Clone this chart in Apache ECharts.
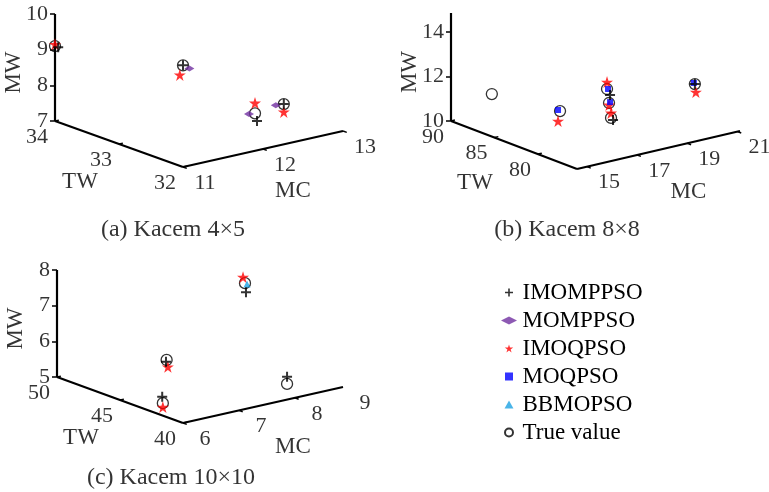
<!DOCTYPE html>
<html>
<head>
<meta charset="utf-8">
<script src="https://cdn.jsdelivr.net/npm/echarts@6/dist/echarts.min.js"></script>
<style>
  html, body { margin: 0; padding: 0; background: #ffffff; }
  #chart { width: 769px; height: 492px; }
</style>
</head>
<body>
<div id="chart"></div>
<script>
// every point is [TW, MC, MW]

// (a) Kacem 4x5
const imomppsoA = [[34, 11.04, 9.05], [32, 11, 9.85], [32, 11.925, 7.82], [33, 13.06, 7.08]];
const momppsoA = [[32, 11.08, 9.72], [32, 11.825, 8.07], [33, 12.96, 7.1]];
const imoqpsoA = [[34, 11, 9.15], [32.05, 11, 9.55], [32, 11.9, 8.34], [32.8, 12.9, 7.07]];
const trueA = [[34, 11, 9.1], [32, 11, 9.85], [32, 11.9, 8.05], [33, 13.06, 7.08]];

// (b) Kacem 8x8
const imomppsoB = [[79, 17.13, 12.14], [79, 17.25, 10.98], [77, 19.82, 12.22]];
const imoqpsoB = [[78, 14.71, 11.75], [79, 17.01, 12.75], [79, 17.09, 11.7], [79, 17.17, 11.32], [77, 19.86, 11.85]];
const moqpsoB = [[78, 14.71, 12.25], [79, 17.05, 12.43], [79, 17.13, 11.82], [77, 19.78, 12.28]];
const trueB = [[85.3, 14.6, 11.91], [78, 14.79, 12.18], [79, 17.01, 12.44], [79, 17.09, 11.79], [79, 17.17, 11.1], [77, 19.82, 12.22]];

// (c) Kacem 10x10
const imomppsoC = [[40, 7.126, 8.27], [41.35, 6, 6.54], [41.65, 6, 5.52], [40, 7.86, 5.64]];
const imoqpsoC = [[40, 7.073, 8.71], [41.2, 6, 6.42], [41.6, 6, 5.24]];
const bbmopsoC = [[40, 7.144, 8.49]];
const trueC = [[40, 7.108, 8.53], [41.3, 6, 6.6], [41.6, 6, 5.35], [40, 7.86, 5.44]];

// axis ranges and ticks
const twRangeA = [32, 34], mcRangeA = [11, 13], mwRangeA = [7, 10];
const twTicksA = [32, 33, 34], mcTicksA = [11, 12, 13], mwTicksA = [7, 8, 9, 10];
const twRangeB = [75.5, 90], mcRangeB = [14.6, 21.1], mwRangeB = [10, 14.85];
const twTicksB = [80, 85, 90], mcTicksB = [15, 17, 19, 21], mwTicksB = [10, 12, 14];
const twRangeC = [40, 50], mcRangeC = [6, 8.86], mwRangeC = [5, 8];
const twTicksC = [40, 45, 50], mcTicksC = [6, 7, 8, 9], mwTicksC = [5, 6, 7, 8];

const panelTitles = ['(a) Kacem 4\u00d75', '(b) Kacem 8\u00d78', '(c) Kacem 10\u00d710'];

// screen layout of each 3d box (pixels)
const panels = [
  { tw: twRangeA, mc: mcRangeA, mw: mwRangeA, twTicks: twTicksA, mcTicks: mcTicksA, mwTicks: mwTicksA,
    origin: [55, 121], twVec: [128, 46], mcVec: [160, -36], mwLen: 107, titlePos: [173, 230] },
  { tw: twRangeB, mc: mcRangeB, mw: mwRangeB, twTicks: twTicksB, mcTicks: mcTicksB, mwTicks: mwTicksB,
    origin: [451, 121], twVec: [126, 48], mcVec: [163, -38], mwLen: 108, titlePos: [567, 230] },
  { tw: twRangeC, mc: mcRangeC, mw: mwRangeC, twTicks: twTicksC, mcTicks: mcTicksC, mwTicks: mwTicksC,
    origin: [57, 377], twVec: [126, 46], mcVec: [160, -36], mwLen: 107, titlePos: [171, 478] }
];

function proj(p, pt) {
  const f = (p.tw[1] - pt[0]) / (p.tw[1] - p.tw[0]);
  const g = (pt[1] - p.mc[0]) / (p.mc[1] - p.mc[0]);
  const h = (pt[2] - p.mw[0]) / (p.mw[1] - p.mw[0]);
  return [
    p.origin[0] + f * p.twVec[0] + g * p.mcVec[0],
    p.origin[1] + f * p.twVec[1] + g * p.mcVec[1] - h * p.mwLen
  ];
}
function unit(v, len) {
  const n = Math.sqrt(v[0] * v[0] + v[1] * v[1]);
  return [v[0] / n * len, v[1] / n * len];
}

const axisSegs = [];
const tickSegs = [];
const textItems = [];
panels.forEach(function (p, i) {
  const top = proj(p, [p.tw[1], p.mc[0], p.mw[1]]);
  const o = proj(p, [p.tw[1], p.mc[0], p.mw[0]]);
  const corner = proj(p, [p.tw[0], p.mc[0], p.mw[0]]);
  const end = proj(p, [p.tw[0], p.mc[1], p.mw[0]]);
  axisSegs.push({ coords: [top, o] }, { coords: [o, corner] }, { coords: [corner, end] });

  const tTick = unit(p.mcVec, 4);
  const mTick = unit(p.twVec, 4);
  p.mwTicks.forEach(function (v) {
    const a = proj(p, [p.tw[1], p.mc[0], v]);
    tickSegs.push({ coords: [a, [a[0] - 5, a[1]]] });
    textItems.push({ value: [a[0] - 7, a[1]], name: String(v), label: { align: 'right' } });
  });
  p.twTicks.forEach(function (v) {
    const a = proj(p, [v, p.mc[0], p.mw[0]]);
    tickSegs.push({ coords: [a, [a[0] + tTick[0], a[1] + tTick[1]]] });
    textItems.push({ value: [a[0] - 18, a[1] + 16], name: String(v) });
  });
  p.mcTicks.forEach(function (v) {
    const a = proj(p, [p.tw[0], Math.min(v, p.mc[1]), p.mw[0]]);
    if (v <= p.mc[1]) tickSegs.push({ coords: [a, [a[0] + mTick[0], a[1] + mTick[1]]] });
    textItems.push({ value: [a[0] + 22, a[1] + 16], name: String(v) });
  });

  // axis names
  textItems.push({ value: [o[0] - 41, (top[1] + o[1]) / 2 + 5], name: 'MW', label: { rotate: 90, fontSize: 23 } });
  textItems.push({ value: [(o[0] + corner[0]) / 2 - 39, (o[1] + corner[1]) / 2 + 38], name: 'TW', label: { fontSize: 23 } });
  textItems.push({ value: [(corner[0] + end[0]) / 2 + 30, (corner[1] + end[1]) / 2 + 42], name: 'MC', label: { fontSize: 23 } });
  textItems.push({ value: p.titlePos, name: panelTitles[i], label: { fontSize: 24 } });
});

function points(list) {
  const out = [];
  list.forEach(function (pair) {
    pair[1].forEach(function (pt) { out.push(proj(panels[pair[0]], pt)); });
  });
  return out;
}

const font = 'Liberation Serif, Times New Roman, serif';
const plusPath = 'path://M4,0H6V4H10V6H6V10H4V6H0V4H4Z';
const diamondPath = 'path://M0,5L10,0L20,5L10,10Z';
const starPath = 'path://M50,0L61.2,34.6L97.6,34.6L68.1,55.9L79.4,90.5L50,69L20.6,90.5L31.9,55.9L2.4,34.6L38.8,34.6Z';
const squarePath = 'path://M0,0H10V10H0Z';
const trianglePath = 'path://M5,0L10,9L0,9Z';

const chart = echarts.init(document.getElementById('chart'));
chart.setOption({
  animation: false,
  backgroundColor: '#ffffff',
  grid: { left: 0, top: 0, width: 769, height: 492, containLabel: false },
  xAxis: { type: 'value', min: 0, max: 769, show: false },
  yAxis: { type: 'value', min: 0, max: 492, inverse: true, show: false },
  legend: {
    orient: 'vertical', left: 496, top: 276,
    itemWidth: 17, itemHeight: 8, itemGap: 5, selectedMode: false,
    textStyle: { fontFamily: font, fontSize: 23, color: '#000', lineHeight: 23 },
    data: [
      { name: 'IMOMPPSO', icon: plusPath },
      { name: 'MOMPPSO', icon: diamondPath },
      { name: 'IMOQPSO', icon: starPath },
      { name: 'MOQPSO', icon: squarePath },
      { name: 'BBMOPSO', icon: trianglePath },
      { name: 'True value', icon: 'circle' }
    ]
  },
  series: [
    {
      type: 'lines', coordinateSystem: 'cartesian2d', silent: true, z: 1,
      lineStyle: { color: '#000', width: 2.2, opacity: 1 }, data: axisSegs
    },
    {
      type: 'lines', coordinateSystem: 'cartesian2d', silent: true, z: 1,
      lineStyle: { color: '#000', width: 1.5, opacity: 1 }, data: tickSegs
    },
    {
      type: 'scatter', silent: true, symbolSize: 1, z: 1,
      itemStyle: { color: 'rgba(0,0,0,0)' },
      label: { show: true, position: 'inside', formatter: '{b}', fontFamily: font, fontSize: 22, color: '#000', verticalAlign: 'middle' },
      data: textItems
    },
    {
      name: 'True value', type: 'scatter', z: 2, symbol: 'circle', symbolSize: 11,
      itemStyle: { color: 'rgba(255,255,255,0)', borderColor: '#000', borderWidth: 1.3 },
      data: points([[0, trueA], [1, trueB], [2, trueC]])
    },
    {
      name: 'MOMPPSO', type: 'scatter', z: 3, symbol: diamondPath, symbolSize: [10, 6],
      itemStyle: { color: '#7030a0' },
      data: points([[0, momppsoA]])
    },
    {
      name: 'IMOQPSO', type: 'scatter', z: 3, symbol: starPath, symbolSize: 12,
      itemStyle: { color: '#ff0000' },
      data: points([[0, imoqpsoA], [1, imoqpsoB], [2, imoqpsoC]])
    },
    {
      name: 'MOQPSO', type: 'scatter', z: 3, symbol: squarePath, symbolSize: 6,
      itemStyle: { color: '#0000ff' },
      data: points([[1, moqpsoB]])
    },
    {
      name: 'BBMOPSO', type: 'scatter', z: 3, symbol: trianglePath, symbolSize: 7,
      itemStyle: { color: '#1ba1e2' },
      data: points([[2, bbmopsoC]])
    },
    {
      name: 'IMOMPPSO', type: 'scatter', z: 4, symbol: plusPath, symbolSize: 10,
      itemStyle: { color: '#000' },
      data: points([[0, imomppsoA], [1, imomppsoB], [2, imomppsoC]])
    }
  ]
});
</script>
</body>
</html>
